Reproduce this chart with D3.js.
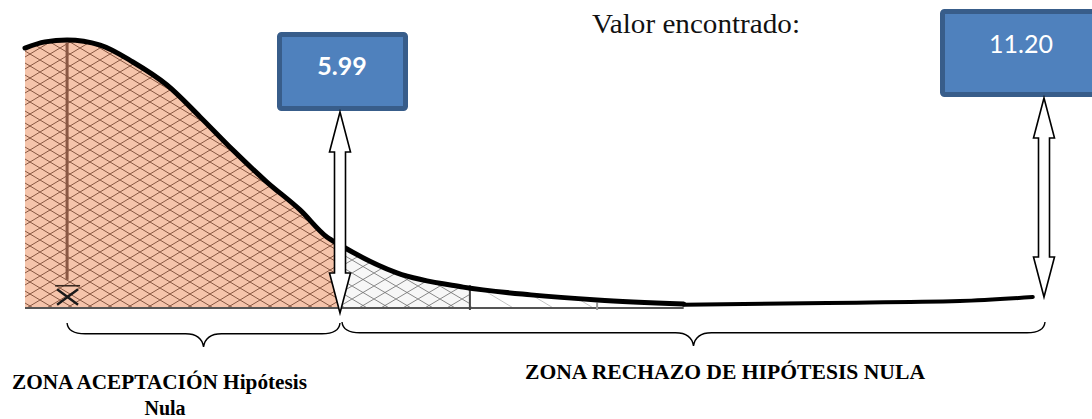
<!DOCTYPE html>
<html>
<head>
<meta charset="utf-8">
<script src="https://cdn.jsdelivr.net/npm/d3@7"></script>
<style>
  html, body { margin: 0; padding: 0; background: #fff; }
  svg { display: block; }
</style>
</head>
<body>
<svg id="chart" width="1092" height="419"></svg>
<script>
// ---- data (schematic chi-square density) ----
const curveX = [0, 0.38, 0.80, 1.43, 2.05, 2.70, 3.33, 3.95, 4.60, 5.23, 5.74, 5.99, 6.41, 6.90, 7.40, 7.89, 8.53];
const curveY = [0.970, 0.993, 1.0, 0.981, 0.918, 0.832, 0.713, 0.590, 0.470, 0.366, 0.265, 0.235, 0.131, 0.078, 0.049, 0.030, 0.015];
const tailX = [8.53, 9.59, 10.57, 11.11];
const tailY = [0.012, 0.019, 0.026, 0.041];
const meanValue = 0.80;
const criticalValue = 5.99;
const foundValue = 11.20;
const hatchBreaks = [6.95, 7.89];
const criticalLabel = "5.99";
const foundLabel = "11.20";
const titleText = "Valor encontrado:";
const acceptLabel = ["ZONA ACEPTACIÓN Hipótesis", "Nula"];
const rejectLabel = "ZONA RECHAZO DE  HIPÓTESIS NULA";

// ---- scales ----
const x = d3.scaleLinear().domain([0, criticalValue, foundValue]).range([25, 340, 1045]);
const y = d3.scaleLinear().domain([0, 1]).range([308, 40]);

const svg = d3.select("#chart");
const defs = svg.append("defs");

function crossPattern(id, bg, stroke, sw, w, h, both) {
  const p = defs.append("pattern").attr("id", id).attr("patternUnits", "userSpaceOnUse")
    .attr("width", w).attr("height", h);
  p.append("rect").attr("width", w).attr("height", h).attr("fill", bg);
  p.append("path").attr("d", `M0,0 L${w},${h}`).attr("stroke", stroke).attr("stroke-width", sw);
  if (both) p.append("path").attr("d", `M0,${h} L${w},0`).attr("stroke", stroke).attr("stroke-width", sw);
}
crossPattern("hatchAccept", "#f5c4ab", "#7a4a36", 0.9, 20, 12, true);
crossPattern("hatchReject", "#f7f7f7", "#6a6a6a", 0.8, 22, 13, true);
crossPattern("hatchLight", "#ffffff", "#b5b5b5", 0.8, 40, 24, false);

const pts = curveX.map((v, i) => [v, curveY[i]]);
const tailPts = tailX.map((v, i) => [v, tailY[i]]);

const area = d3.area().x(d => x(d[0])).y0(y(0)).y1(d => y(d[1])).curve(d3.curveMonotoneX);
const line = d3.line().x(d => x(d[0])).y(d => y(d[1])).curve(d3.curveMonotoneX);

// clip regions
const regions = [
  { id: "cA", from: 0, to: criticalValue, fill: "url(#hatchAccept)" },
  { id: "cB", from: criticalValue, to: hatchBreaks[0], fill: "url(#hatchReject)" },
  { id: "cC", from: hatchBreaks[0], to: hatchBreaks[1], fill: "url(#hatchLight)" }
];
regions.forEach(r => {
  defs.append("clipPath").attr("id", r.id).append("rect")
    .attr("x", x(r.from)).attr("y", 0).attr("width", x(r.to) - x(r.from)).attr("height", 419);
  svg.append("path").datum(pts).attr("d", area).attr("fill", r.fill).attr("clip-path", `url(#${r.id})`);
});

// baseline
svg.append("line").attr("x1", x(0)).attr("x2", x(curveX[curveX.length - 1]))
  .attr("y1", y(0)).attr("y2", y(0)).attr("stroke", "#555").attr("stroke-width", 2);

// separators at hatch breaks
svg.append("line").attr("x1", x(hatchBreaks[0])).attr("x2", x(hatchBreaks[0]))
  .attr("y1", y(0.085)).attr("y2", y(0) + 2).attr("stroke", "#444").attr("stroke-width", 2);
svg.append("line").attr("x1", x(hatchBreaks[1])).attr("x2", x(hatchBreaks[1]))
  .attr("y1", y(0.02)).attr("y2", y(0) + 2).attr("stroke", "#999").attr("stroke-width", 2);

// mean line and X-bar
const mx = x(meanValue);
svg.append("line").attr("x1", mx).attr("x2", mx).attr("y1", y(0.99)).attr("y2", y(0.105))
  .attr("stroke", "#8a5844").attr("stroke-width", 3);
svg.append("line").attr("x1", mx - 12).attr("x2", mx + 13).attr("y1", y(0.083)).attr("y2", y(0.083))
  .attr("stroke", "#3a2a22").attr("stroke-width", 1.6);
svg.append("path").attr("d", `M${mx - 10},${y(0.07)} L${mx + 11},${y(0.012)} M${mx + 11},${y(0.07)} L${mx - 10},${y(0.012)}`)
  .attr("stroke", "#1a1a1a").attr("stroke-width", 2.4);

// curve
svg.append("path").datum(pts).attr("d", line).attr("fill", "none")
  .attr("stroke", "#000").attr("stroke-width", 5).attr("stroke-linecap", "round");
svg.append("path").datum(tailPts).attr("d", line).attr("fill", "none")
  .attr("stroke", "#000").attr("stroke-width", 4).attr("stroke-linecap", "round");

// value boxes
function valueBox(x0, y0, w, h) {
  svg.append("rect").attr("x", x0 + 2.5).attr("y", y0 + 2.5).attr("width", w - 5).attr("height", h - 5)
    .attr("rx", 2).attr("fill", "#4f81bd").attr("stroke", "#385d8a").attr("stroke-width", 5);
}
valueBox(277, 32, 131, 79);
svg.append("text").attr("x", 342).attr("y", 75).attr("text-anchor", "middle")
  .attr("font-family", "Lato, 'Open Sans', sans-serif").attr("font-weight", "bold").attr("font-size", 25)
  .attr("fill", "#fff").text(criticalLabel);
valueBox(940, 9, 160, 88);
svg.append("text").attr("x", 1021).attr("y", 53).attr("text-anchor", "middle")
  .attr("font-family", "Lato, 'Open Sans', sans-serif").attr("font-size", 25)
  .attr("fill", "#fff").text(foundLabel);

// double arrows
function doubleArrow(cx, yTop, yBot) {
  const hw = 10.5, sw = 5.5, hl = 40;
  const d = `M${cx},${yTop} L${cx + hw},${yTop + hl} L${cx + sw},${yTop + hl} L${cx + sw},${yBot - hl} L${cx + hw},${yBot - hl} L${cx},${yBot} L${cx - hw},${yBot - hl} L${cx - sw},${yBot - hl} L${cx - sw},${yTop + hl} L${cx - hw},${yTop + hl} Z`;
  svg.append("path").attr("d", d).attr("fill", "#fff").attr("stroke", "#000").attr("stroke-width", 1.6)
    .attr("stroke-linejoin", "miter");
}
doubleArrow(x(criticalValue), 112, 313);
doubleArrow(x(foundValue) - 1, 98, 297);

// braces
function brace(x1, x2, yTop, h) {
  const mid = (x1 + x2) / 2, ym = yTop + h * 0.45, r = 18;
  return `M${x1},${yTop} Q${x1 + 1},${ym} ${x1 + r},${ym} L${mid - r},${ym} Q${mid - 2},${ym} ${mid},${yTop + h}` +
         ` Q${mid + 2},${ym} ${mid + r},${ym} L${x2 - r},${ym} Q${x2 - 1},${ym} ${x2},${yTop}`;
}
svg.append("path").attr("d", brace(x(meanValue), x(criticalValue), 323, 24))
  .attr("fill", "none").attr("stroke", "#000").attr("stroke-width", 1.4);
svg.append("path").attr("d", brace(x(criticalValue) + 2, x(foundValue), 322, 24))
  .attr("fill", "none").attr("stroke", "#000").attr("stroke-width", 1.4);

// texts
const serif = "'Liberation Serif', 'Times New Roman', serif";
svg.append("text").attr("x", 592).attr("y", 33).attr("font-family", serif).attr("font-size", 28)
  .attr("textLength", 208).attr("lengthAdjust", "spacingAndGlyphs").attr("fill", "#111").text(titleText);
svg.append("text").attr("x", 12).attr("y", 389).attr("font-family", serif).attr("font-weight", "bold")
  .attr("font-size", 20).attr("textLength", 295).attr("lengthAdjust", "spacingAndGlyphs").attr("fill", "#000").text(acceptLabel[0]);
svg.append("text").attr("x", 165).attr("y", 415).attr("text-anchor", "middle").attr("font-family", serif).attr("font-weight", "bold")
  .attr("font-size", 20).attr("fill", "#000").text(acceptLabel[1]);
svg.append("text").attr("x", 525).attr("y", 379).attr("font-family", serif).attr("font-weight", "bold")
  .attr("font-size", 20).attr("textLength", 400).attr("lengthAdjust", "spacingAndGlyphs").attr("fill", "#000").text(rejectLabel);
</script>
</body>
</html>
